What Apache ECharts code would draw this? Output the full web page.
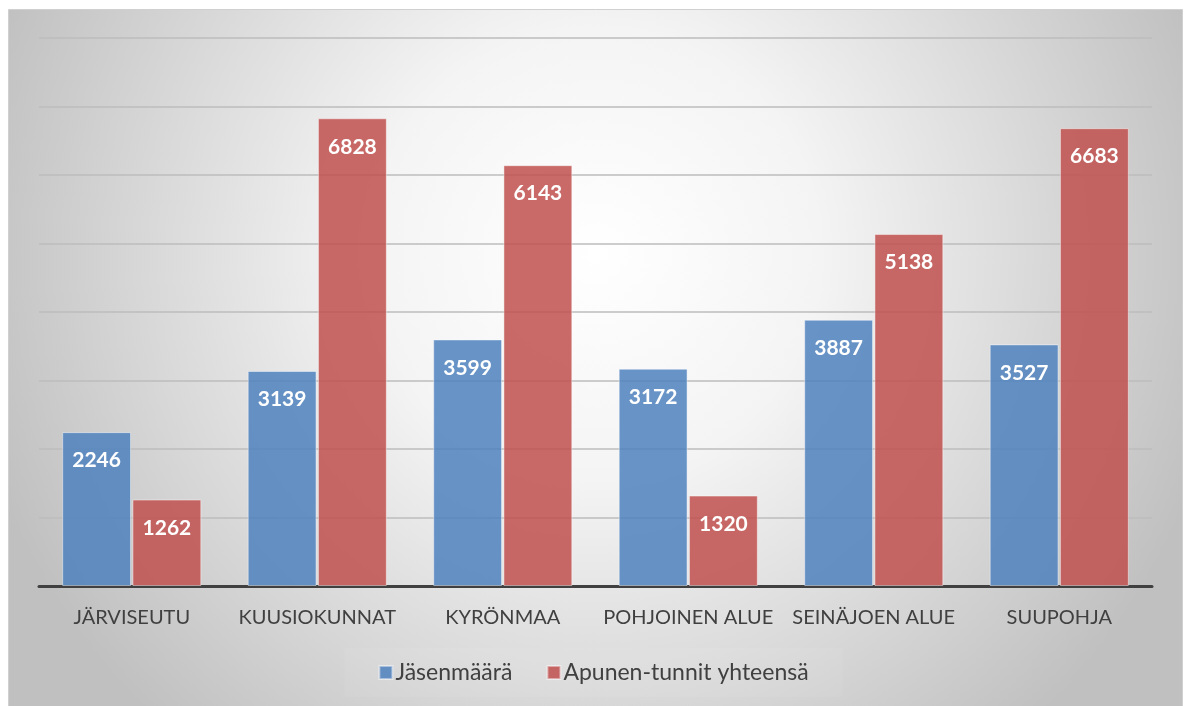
<!DOCTYPE html>
<html>
<head>
<meta charset="utf-8">
<script src="https://cdn.jsdelivr.net/npm/echarts@6/dist/echarts.min.js"></script>
<style>
  html, body { margin: 0; padding: 0; background: #fff; }
  #chart { width: 1187px; height: 706px; }
</style>
</head>
<body>
<div id="chart"></div>
<script>
var categories = ['JÄRVISEUTU', 'KUUSIOKUNNAT', 'KYRÖNMAA', 'POHJOINEN ALUE', 'SEINÄJOEN ALUE', 'SUUPOHJA'];
var jasenmaara = [2246, 3139, 3599, 3172, 3887, 3527];
var apunenTunnit = [1262, 6828, 6143, 1320, 5138, 6683];

var chart = echarts.init(document.getElementById('chart'));

var labelStyle = {
    show: true,
    position: 'insideTop',
    distance: 18,
    color: '#fff',
    fontSize: 21,
    fontWeight: 'bold',
    fontFamily: 'Lato'
};

var option = {
    backgroundColor: '#fff',
    animation: false,
    graphic: [{
        type: 'rect',
        left: 8,
        top: 9,
        z: -10,
        shape: { width: 1174, height: 697 },
        style: {
            fill: {
                type: 'radial', x: 0.5, y: 0.35, r: 0.92,
                colorStops: [
                    { offset: 0, color: '#ffffff' },
                    { offset: 0.35, color: '#f4f4f4' },
                    { offset: 1, color: '#c0c0c0' }
                ]
            },
            stroke: '#d0d0d0',
            lineWidth: 1
        }
    }],
    grid: { left: 39, right: 35, top: 38, bottom: 120 },
    legend: {
        bottom: 9,
        left: 'center',
        itemWidth: 13,
        itemHeight: 13,
        itemGap: 34,
        icon: 'rect',
        padding: [13, 34],
        backgroundColor: 'rgba(255,255,255,0.06)',
        textStyle: { color: '#404040', fontSize: 23, fontFamily: 'Lato', padding: [0, 0, 0, -2] },
        data: ['Jäsenmäärä', 'Apunen-tunnit yhteensä']
    },
    xAxis: {
        type: 'category',
        data: categories,
        axisLine: { lineStyle: { color: '#404040', width: 3 } },
        axisTick: { show: false },
        axisLabel: { color: '#404040', fontSize: 20, fontFamily: 'Lato', margin: 22, interval: 0 }
    },
    yAxis: {
        type: 'value',
        min: 0,
        max: 8000,
        interval: 1000,
        axisLabel: { show: false },
        axisLine: { show: false },
        axisTick: { show: false },
        splitLine: { lineStyle: { color: '#bdbdbd', width: 1.5 } }
    },
    series: [
        {
            name: 'Jäsenmäärä',
            type: 'bar',
            data: jasenmaara,
            barGap: '2%',
            barCategoryGap: '25%',
            itemStyle: {
                color: 'rgba(79,129,189,0.85)',
                borderColor: 'rgba(255,255,255,0.45)',
                borderWidth: 1
            },
            label: labelStyle
        },
        {
            name: 'Apunen-tunnit yhteensä',
            type: 'bar',
            data: apunenTunnit,
            barGap: '2%',
            barCategoryGap: '25%',
            itemStyle: {
                color: 'rgba(192,80,77,0.85)',
                borderColor: 'rgba(255,255,255,0.45)',
                borderWidth: 1
            },
            label: labelStyle
        }
    ]
};
chart.setOption(option);
</script>
</body>
</html>
